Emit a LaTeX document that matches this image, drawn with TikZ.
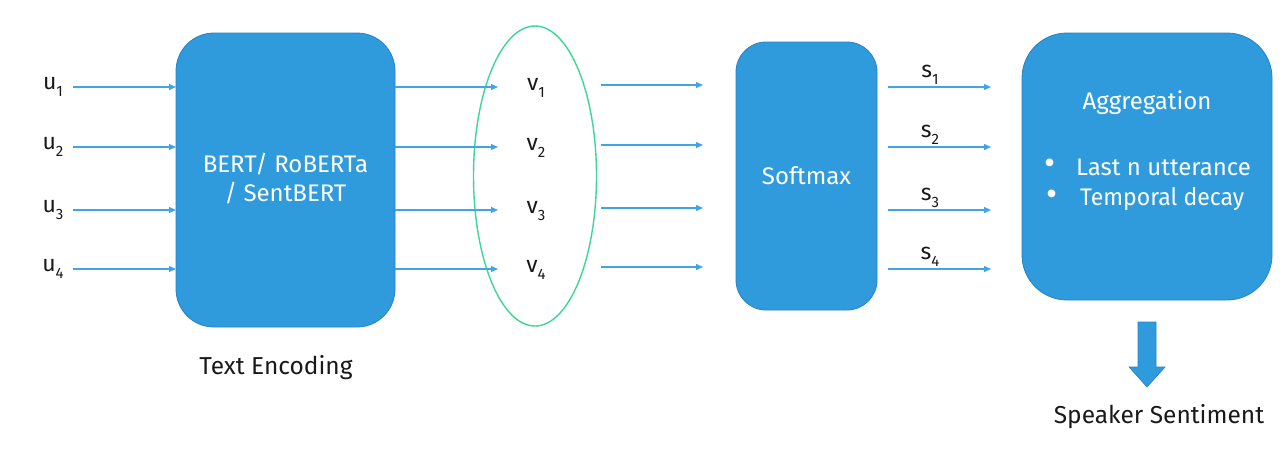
\documentclass[tikz,border=0pt]{standalone}
\usepackage{fontspec}
\setmainfont{Fira Sans}
\usetikzlibrary{shapes.geometric,arrows.meta}
\definecolor{boxblue}{RGB}{47,155,220}
\definecolor{boxedge}{RGB}{40,130,195}
\definecolor{arrblue}{RGB}{64,164,232}
\definecolor{ellgreen}{RGB}{60,215,150}
\definecolor{txt}{RGB}{25,25,25}
\newcommand{\sbs}[1]{\raisebox{-0.32em}{\fontsize{15}{16}\selectfont #1}}
\begin{document}
\begin{tikzpicture}[x=1pt,y=-1pt,
  blk/.style={draw=boxedge,line width=0.8pt,fill=boxblue,rounded corners=#1},
  conn/.style={draw=arrblue,line width=1.2pt,-{Triangle[length=7pt,width=6pt]}},
  lbl/.style={text=txt,font=\fontsize{23}{26}\selectfont,inner sep=0pt},
  intxt/.style={text=white,font=\fontsize{24}{29}\selectfont,align=center,inner sep=0pt},
  bul/.style={text=white,font=\fontsize{34}{36}\selectfont,inner sep=0pt},
  captxt/.style={text=txt,font=\fontsize{24.5}{28}\selectfont,inner sep=0pt}]
\useasboundingbox (0,0) rectangle (1284,448);
% boxes
\path[blk=38pt] (176,33) rectangle (395,327);
\path[blk=30pt] (736,42) rectangle (877,310);
\path[blk=45pt] (1022,33) rectangle (1272,300);
\node[intxt] (berttxt) at (285.5,179) {BERT/ RoBERTa\\/ SentBERT};
\node[intxt] (smtxt) at (806.5,176) {Softmax};
\node[intxt] (aggtxt) at (1147,103) {Aggregation};
\node[bul] (b1) at (1050,167) {\textbullet};
\node[bul] (b2) at (1052,198) {\textbullet};
\node[intxt,anchor=west] (l1) at (1076,167) {Last n utterance};
\node[intxt,anchor=west,xscale=0.96] (l2) at (1080,199) {Temporal decay};
% ellipse
\node[ellipse,draw=ellgreen,line width=1.4pt,minimum width=123pt,minimum height=300pt,inner sep=0pt] (ell) at (535,176) {};
% rows
\foreach \i/\y in {1/87,2/147,3/210,4/269}{
  \node[lbl] (u\i) at (53,\y) {u\sbs{\i}};
  \coordinate (us\i) at (73,\y);
  \coordinate (ue\i) at (176,\y);
  \draw[conn] (us\i) -- (ue\i);
  \coordinate (bo\i) at (395,\y);
  \coordinate (vi\i) at (498,\y);
  \draw[conn] (bo\i) -- (vi\i);
  \node[lbl] (v\i) at (536,\y+1) {v\sbs{\i}};
  \coordinate (vo\i) at (601,\y-2);
  \coordinate (si\i) at (703,\y-2);
  \draw[conn] (vo\i) -- (si\i);
  \coordinate (so\i) at (888,\y);
  \coordinate (ai\i) at (991,\y);
  \draw[conn] (so\i) -- (ai\i);
  \node[lbl] (s\i) at (930,\y-12) {s\sbs{\i}};
}
% big down arrow
\fill[boxblue,draw=boxedge,line width=0.6pt] (1138,322) -- (1156,322) -- (1156,367) -- (1165,367) -- (1147,387) -- (1129,367) -- (1138,367) -- cycle;
\node[captxt] (tenc) at (276,368) {Text Encoding};
\node[captxt] (spk) at (1159,417) {Speaker Sentiment};
\end{tikzpicture}
\end{document}
